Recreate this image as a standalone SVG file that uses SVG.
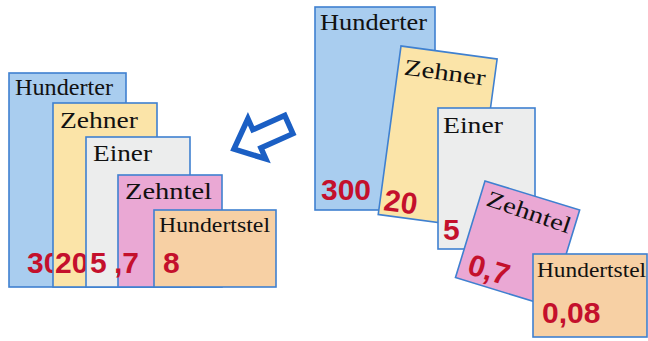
<svg xmlns="http://www.w3.org/2000/svg" width="648" height="341" viewBox="0 0 648 341">
<style>
.card{stroke:#3f80d0;stroke-width:1.6}
.h{fill:#a9cdef}.z{fill:#fbe4a8}.e{fill:#eceded}.zt{fill:#eaa8d4}.hs{fill:#f7d0a4}
.lbl{font-family:"Liberation Serif",serif;font-size:23px;fill:#111}
.lbs{font-family:"Liberation Serif",serif;font-size:20px;fill:#111}
.num{font-family:"Liberation Sans",Arial,sans-serif;font-weight:bold;font-size:30px;fill:#c4102c}
</style>
<rect width="648" height="341" fill="#ffffff"/>
<!-- left stack -->
<g id="left-hunderter">
<rect class="card h" x="9" y="73" width="117" height="214"/>
<text class="lbl" x="15" y="95" textLength="98" lengthAdjust="spacingAndGlyphs">Hunderter</text>
<text class="num" x="27" y="273">30</text>
</g>
<g id="left-zehner">
<rect class="card z" x="53" y="103" width="104" height="184"/>
<text class="lbl" x="60" y="128" textLength="78" lengthAdjust="spacingAndGlyphs">Zehner</text>
<text class="num" x="55" y="273">20</text>
</g>
<g id="left-einer">
<rect class="card e" x="86" y="137" width="104" height="150"/>
<text class="lbl" x="93" y="161" textLength="59" lengthAdjust="spacingAndGlyphs">Einer</text>
<text class="num" x="90" y="273">5</text>
</g>
<g id="left-zehntel">
<rect class="card zt" x="118" y="175" width="104" height="112"/>
<text class="lbl" x="125" y="199" textLength="87" lengthAdjust="spacingAndGlyphs">Zehntel</text>
<text class="num" x="114" y="273">,7</text>
</g>
<g id="left-hundertstel">
<rect class="card hs" x="154" y="210" width="122" height="77"/>
<text class="lbs" x="159" y="232" textLength="111" lengthAdjust="spacingAndGlyphs">Hundertstel</text>
<text class="num" x="163" y="273">8</text>
</g>
<!-- arrow -->
<g id="arrow">
<polygon points="0,0 25,-22 25,-10 60,-10 60,10 25,10 25,22" transform="translate(234,149) rotate(-24)" fill="#ffffff" stroke="#1b5fc4" stroke-width="5.5" stroke-linejoin="miter"/>
</g>
<!-- right spread -->
<g id="right-hunderter">
<rect class="card h" x="315" y="7" width="120" height="203"/>
<text class="lbl" x="320" y="30" textLength="107" lengthAdjust="spacingAndGlyphs">Hunderter</text>
<text class="num" x="321" y="200" font-size="31">300</text>
</g>
<g id="right-zehner" transform="translate(401,46) rotate(7.7)">
<rect class="card z" x="0" y="0" width="97" height="170"/>
<text class="lbl" x="6" y="28" textLength="82" lengthAdjust="spacingAndGlyphs">Zehner</text>
<text class="num" x="4" y="165" font-size="31">20</text>
</g>
<g id="right-einer">
<rect class="card e" x="438" y="108" width="97" height="141"/>
<text class="lbl" x="443" y="133" textLength="60" lengthAdjust="spacingAndGlyphs">Einer</text>
<text class="num" x="443" y="240">5</text>
</g>
<g id="right-zehntel" transform="translate(485,181) rotate(17)">
<rect class="card zt" x="0" y="0" width="99" height="101"/>
<text class="lbl" x="7" y="23" textLength="88" lengthAdjust="spacingAndGlyphs" transform="rotate(2 7 23)">Zehntel</text>
<text class="num" x="9" y="94">0,7</text>
</g>
<g id="right-hundertstel">
<rect class="card hs" x="533" y="254" width="114" height="83"/>
<text class="lbs" x="537" y="277" textLength="109" lengthAdjust="spacingAndGlyphs">Hundertstel</text>
<text class="num" x="542" y="323" font-size="31">0,08</text>
</g>
</svg>
